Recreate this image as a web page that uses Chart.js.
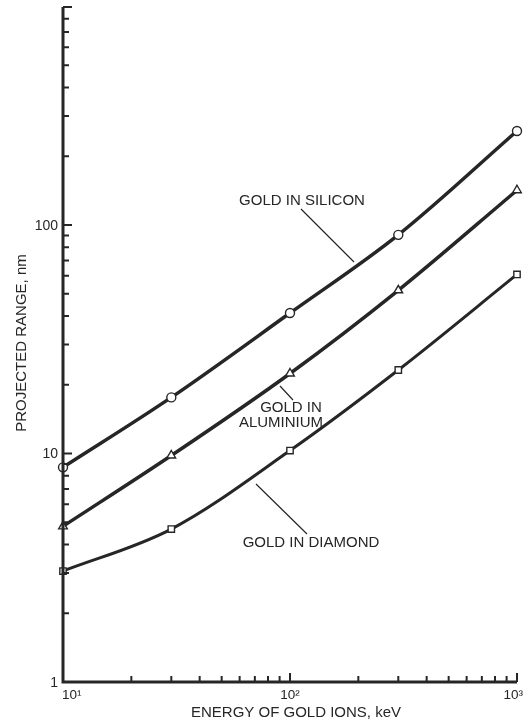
<!DOCTYPE html>
<html>
<head>
<meta charset="utf-8">
<script src="https://cdn.jsdelivr.net/npm/chart.js@4.4.1/dist/chart.umd.min.js"></script>
<style>
  html, body { margin: 0; padding: 0; background: #fff; }
  #wrap { width: 528px; height: 727px; }
</style>
</head>
<body>
<div id="wrap"><canvas id="chart" width="528" height="727"></canvas></div>
<script>
// energies, keV
const energies = [10, 30, 100, 300, 1000];

// projected range, nm
const siliconRange = [8.7, 17.6, 41.2, 90.6, 258];
const aluminiumRange = [4.8, 9.8, 22.4, 51.8, 142];
const diamondRange = [3.06, 4.67, 10.3, 23.2, 60.8];

// axis ticks
const xMajorTicks = [10, 100, 1000];
const xMajorLabels = ['10\u00B9', '10\u00B2', '10\u00B3'];
const xMinorTicks = [20, 30, 40, 50, 60, 70, 80, 90, 200, 300, 400, 500, 600, 700, 800, 900];
const yMajorTicks = [1, 10, 100];
const yMajorLabels = ['1', '10', '100'];
const yMinorTicks = [2, 3, 4, 5, 6, 7, 8, 9, 20, 30, 40, 50, 60, 70, 80, 90,
                     200, 300, 400, 500, 600, 700, 800, 900];

const INK = '#262626';
const FONT = '"Liberation Sans", Arial, sans-serif';

function toPoints(ys) {
    return energies.map((x, i) => ({ x, y: ys[i] }));
}

// axes, inward ticks, labels and leader lines
const paperAxes = {
    id: 'paperAxes',
    beforeDraw(chart) {
        const ctx = chart.ctx;
        ctx.save();
        ctx.fillStyle = '#fff';
        ctx.fillRect(0, 0, chart.width, chart.height);
        ctx.restore();
    },
    afterDraw(chart) {
        const ctx = chart.ctx;
        const xs = chart.scales.x;
        const ys = chart.scales.y;
        const a = chart.chartArea;
        ctx.save();
        ctx.strokeStyle = INK;
        ctx.fillStyle = INK;

        // axis lines
        ctx.lineWidth = 3;
        ctx.beginPath();
        ctx.moveTo(a.left, a.top);
        ctx.lineTo(a.left, a.bottom);
        ctx.lineTo(a.right, a.bottom);
        ctx.stroke();

        // y ticks
        ctx.lineWidth = 2;
        ctx.beginPath();
        yMajorTicks.forEach(v => {
            const p = ys.getPixelForValue(v);
            ctx.moveTo(a.left, p); ctx.lineTo(a.left + 9, p);
        });
        yMinorTicks.forEach(v => {
            const p = ys.getPixelForValue(v);
            ctx.moveTo(a.left, p); ctx.lineTo(a.left + 6, p);
        });
        ctx.moveTo(a.left, a.top); ctx.lineTo(a.left + 9, a.top);
        // x ticks
        xMajorTicks.forEach(v => {
            const p = xs.getPixelForValue(v);
            ctx.moveTo(p, a.bottom); ctx.lineTo(p, a.bottom - 9);
        });
        xMinorTicks.forEach(v => {
            const p = xs.getPixelForValue(v);
            ctx.moveTo(p, a.bottom); ctx.lineTo(p, a.bottom - 6);
        });
        ctx.stroke();

        // tick labels
        ctx.font = '14px ' + FONT;
        ctx.textAlign = 'right';
        ctx.textBaseline = 'middle';
        yMajorTicks.forEach((v, i) => {
            ctx.fillText(yMajorLabels[i], a.left - 5, ys.getPixelForValue(v) + 1);
        });
        // first label sits right of the axis corner, last one ends near the axis end
        ctx.font = '13.5px ' + FONT;
        ctx.textBaseline = 'top';
        const xAligns = ['left', 'center', 'right'];
        const xShift = [-1, 0, 6];
        xMajorTicks.forEach((v, i) => {
            ctx.textAlign = xAligns[i];
            ctx.fillText(xMajorLabels[i], xs.getPixelForValue(v) + xShift[i], a.bottom + 7);
        });

        // axis titles
        ctx.textAlign = 'center';
        ctx.font = '15px ' + FONT;
        ctx.textBaseline = 'middle';
        ctx.fillText('ENERGY OF GOLD IONS, keV', 296, 713);
        ctx.save();
        ctx.translate(22, 343);
        ctx.rotate(-Math.PI / 2);
        ctx.fillText('PROJECTED RANGE, nm', 0, 0);
        ctx.restore();

        // curve labels
        ctx.font = '15px ' + FONT;
        ctx.fillText('GOLD IN SILICON', 302, 201);
        ctx.fillText('GOLD IN', 291, 408);
        ctx.fillText('ALUMINIUM', 281, 423);
        ctx.fillText('GOLD IN DIAMOND', 311, 543);

        // leader lines
        ctx.lineWidth = 1.2;
        ctx.beginPath();
        ctx.moveTo(301, 209); ctx.lineTo(354, 262);
        ctx.moveTo(280, 386); ctx.lineTo(293, 400);
        ctx.moveTo(256, 484); ctx.lineTo(307, 534);
        ctx.stroke();
        ctx.restore();
    }
};

function series(label, data, style, width) {
    return {
        label: label,
        data: toPoints(data),
        borderColor: INK,
        borderWidth: width,
        backgroundColor: '#fff',
        pointStyle: style,
        pointRadius: style === 'triangle' ? 5 : 4.5,
        pointBorderWidth: 1.4,
        pointBorderColor: INK,
        pointBackgroundColor: '#fff',
        cubicInterpolationMode: 'monotone',
        clip: false
    };
}

const ctx = document.getElementById('chart').getContext('2d');
new Chart(ctx, {
    type: 'line',
    data: {
        datasets: [
            series('Gold in silicon', siliconRange, 'circle', 3.5),
            series('Gold in aluminium', aluminiumRange, 'triangle', 3.5),
            series('Gold in diamond', diamondRange, 'rect', 3)
        ]
    },
    options: {
        responsive: false,
        animation: false,
        layout: { padding: { left: 63, right: 11, top: 7, bottom: 45 } },
        scales: {
            x: { type: 'logarithmic', min: 10, max: 1000, display: false },
            y: { type: 'logarithmic', min: 1, max: 900, display: false }
        },
        plugins: {
            legend: { display: false },
            tooltip: { enabled: false }
        }
    },
    plugins: [paperAxes]
});
</script>
</body>
</html>
